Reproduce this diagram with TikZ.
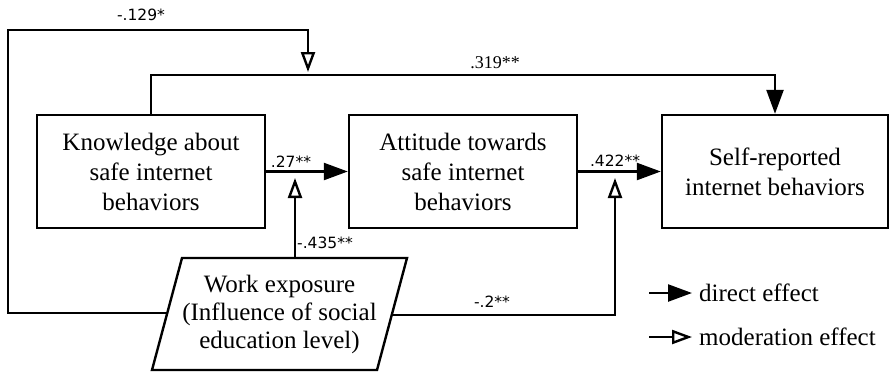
\documentclass[tikz,border=0pt]{standalone}
\usepackage{fontspec}
\setmainfont{Liberation Serif}
\newfontfamily\labfont{DejaVu Sans}
\usetikzlibrary{arrows.meta}
\begin{document}
\begin{tikzpicture}[x=1pt,y=-1pt,
  box/.style={draw, line width=2.4pt, minimum width=228pt, minimum height=113pt,
    align=center, inner sep=0pt, font=\fontsize{25}{30}\selectfont},
  worktext/.style={minimum width=225pt, minimum height=112pt, align=center,
    inner sep=0pt, font=\fontsize{25}{28}\selectfont},
  edge/.style={line width=2.4pt, line join=miter},
  direct/.style={line width=2.4pt, -{Triangle[length=24pt,width=17pt]}},
  moder/.style={line width=2.4pt, -{Triangle[open,length=20pt,width=14pt]}},
  lab/.style={inner sep=0pt, font=\labfont\fontsize{15.5}{17}\selectfont},
  serlab/.style={inner sep=0pt, font=\fontsize{18}{20}\selectfont},
  legtext/.style={inner sep=0pt, anchor=west, font=\fontsize{25}{28}\selectfont}]
\useasboundingbox (0,0) rectangle (890,373);
% boxes
\node[box] (know) at (151,171.5) {Knowledge about\\safe internet\\behaviors};
\node[box] (att) at (463,171.5) {Attitude towards\\safe internet\\behaviors};
\node[box, minimum width=226pt] (self) at (775,171.5) {Self-reported\\internet behaviors};
\node[worktext] (work) at (279.5,314) {Work exposure\\(Influence of social\\education level)};
% parallelogram outline of the work node
\coordinate (wtl) at ([shift={(-97.5,-56)}]work.center);
\coordinate (wtr) at ([shift={(127.5,-56)}]work.center);
\coordinate (wbr) at ([shift={(97.5,56)}]work.center);
\coordinate (wbl) at ([shift={(-127.5,56)}]work.center);
\draw[edge] (wtl) -- (wtr) -- (wbr) -- (wbl) -- cycle;
\coordinate (wwest) at ([shift={(-112.5,-1)}]work.center);
\coordinate (weast) at ([shift={(112.5,1)}]work.center);
% helper coordinates
\coordinate (top319) at (0,75);
\coordinate (top129) at (0,30);
\coordinate (leftx) at (8,0);
\coordinate (m0) at (308,72);
\coordinate (m1) at (295,178);
\coordinate (m2) at (615,178);
% direct effects
\draw[direct] (know) -- (att);
\draw[direct] (att) -- (self);
\draw[direct] (know.north) -- (know.north |- top319) -- (self.north |- top319) -- (self.north);
% moderation effects
\draw[moder] (wtl -| m1) -- (m1);
\draw[moder] (weast) -- (weast -| m2) -- (m2);
\draw[moder] (wwest) -- (wwest -| leftx) -- (leftx |- top129) -- (m0 |- top129) -- (m0);
% labels
\node[lab] (l129) at (141,15) {-.129*};
\node[serlab] (l319) at (495,63) {.319**};
\node[lab] (l27) at (291,162) {.27**};
\node[lab] (l422) at (615,161) {.422**};
\node[lab, anchor=west] (l435) at (297,243) {-.435**};
\node[lab] (l2) at (492,302) {-.2**};
% legend
\coordinate (la1) at (649,293);
\coordinate (lb1) at (692,293);
\coordinate (la2) at (649,337);
\coordinate (lb2) at (692,337);
\draw[direct] (la1) -- (lb1);
\draw[moder] (la2) -- (lb2);
\node[legtext] (ld) at (699,293) {direct effect};
\node[legtext] (lm) at (699,337) {moderation effect};
\end{tikzpicture}
\end{document}
